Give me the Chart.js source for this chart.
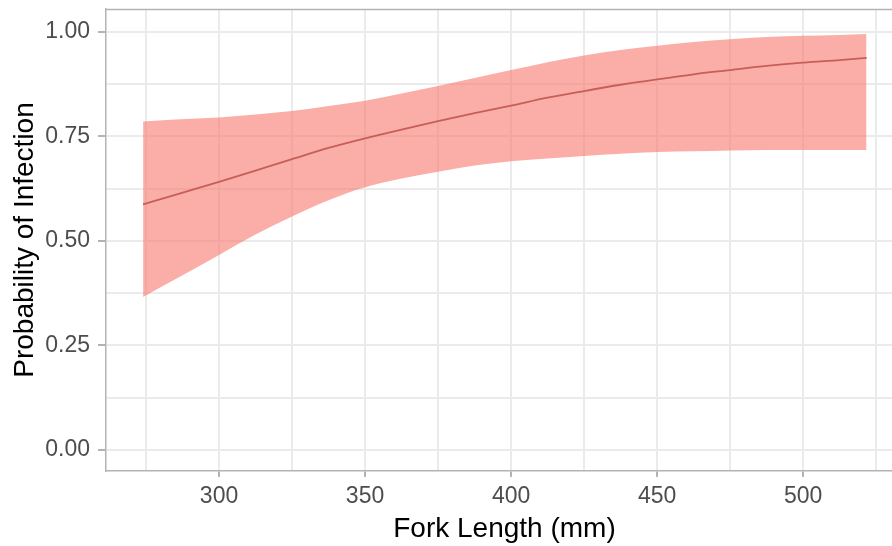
<!DOCTYPE html>
<html><head><meta charset="utf-8">
<script src="https://cdn.jsdelivr.net/npm/chart.js@4/dist/chart.umd.min.js"></script>
<style>html,body{margin:0;padding:0;background:#fff;overflow:hidden}#wrap{width:892px;height:546px;overflow:hidden;position:relative}canvas{display:block}</style>
</head><body><div id="wrap"><canvas id="c" width="903" height="546"></canvas></div>
<script>
const forkLength = [274, 285, 300, 312.5, 325, 337.5, 350, 362.5, 375, 387.5, 400, 412.5, 425, 437.5, 450, 462.5, 475, 487.5, 500, 512.5, 521.7];
const probFit    = [0.587, 0.610, 0.641, 0.668, 0.695, 0.722, 0.745, 0.766, 0.786, 0.805, 0.823, 0.842, 0.858, 0.873, 0.886, 0.898, 0.908, 0.918, 0.926, 0.932, 0.937];
const probUpper  = [0.785, 0.790, 0.795, 0.802, 0.810, 0.822, 0.835, 0.852, 0.870, 0.889, 0.908, 0.927, 0.943, 0.956, 0.966, 0.975, 0.982, 0.987, 0.990, 0.992, 0.994];
const probLower  = [0.366, 0.408, 0.466, 0.515, 0.558, 0.597, 0.628, 0.649, 0.665, 0.680, 0.690, 0.697, 0.703, 0.708, 0.712, 0.714, 0.716, 0.717, 0.717, 0.717, 0.717];

const xTickValues = [275, 300, 325, 350, 375, 400, 425, 450, 475, 500, 525];
const xTickLabels = ['', '300', '', '350', '', '400', '', '450', '', '500', ''];
const yTickValues = [0, 0.125, 0.25, 0.375, 0.5, 0.625, 0.75, 0.875, 1];
const yTickLabels = ['0.00', '', '0.25', '', '0.50', '', '0.75', '', '1.00'];

const pts = (ys) => forkLength.map((x, i) => ({x: x, y: ys[i]}));

const topBorder = {
  id: 'topBorder',
  afterDraw(chart) {
    const {ctx, chartArea} = chart;
    ctx.save();
    ctx.strokeStyle = '#B3B3B3';
    ctx.lineWidth = 1.5;
    ctx.beginPath();
    ctx.moveTo(chartArea.left, chartArea.top + 0.5);
    ctx.lineTo(chartArea.right, chartArea.top + 0.5);
    ctx.stroke();
    ctx.restore();
  }
};

const GRID = '#EBEBEB';
const TICKC = '#B3B3B3';
const FONT = 'Liberation Sans, Arial, sans-serif';

new Chart(document.getElementById('c'), {
  type: 'line',
  data: {
    datasets: [
      { label: 'lower', data: pts(probLower), borderWidth: 0, pointRadius: 0, fill: false, borderColor: 'rgba(0,0,0,0)', cubicInterpolationMode: 'monotone' },
      { label: 'upper', data: pts(probUpper), borderWidth: 0, pointRadius: 0, fill: '-1', borderColor: 'rgba(0,0,0,0)', backgroundColor: 'rgba(248,118,109,0.6)', cubicInterpolationMode: 'monotone' },
      { label: 'fit', data: pts(probFit), borderWidth: 1.8, pointRadius: 0, fill: false, borderColor: '#7D3A3A', cubicInterpolationMode: 'monotone' }
    ]
  },
  options: {
    responsive: false,
    animation: false,
    devicePixelRatio: 1,
    layout: { autoPadding: false, padding: { left: 0, right: 0, top: 9, bottom: 0 } },
    plugins: { legend: { display: false }, title: { display: false }, tooltip: { enabled: false } },
    scales: {
      x: {
        type: 'linear', min: 261.3, max: 534.2,
        afterBuildTicks: (s) => { s.ticks = xTickValues.map(v => ({value: v})); },
        afterFit: (s) => { s.height = 75; s.paddingLeft = 0; s.paddingRight = 0; },
        ticks: {
          autoSkip: false, maxRotation: 0, minRotation: 0,
          callback: (v, i) => xTickLabels[i],
          font: { family: FONT, size: 23 },
          color: '#4D4D4D', padding: 6
        },
        grid: {
          color: GRID, lineWidth: 2, tickLength: 6,
          tickColor: (ctx) => (xTickLabels[ctx.index] ? TICKC : 'rgba(0,0,0,0)')
        },
        border: { color: '#B3B3B3', width: 1.5 },
        title: {
          display: true, text: 'Fork Length (mm)', color: '#000',
          font: { family: FONT, size: 28 },
          padding: { top: 0, bottom: 0 }
        }
      },
      y: {
        type: 'linear', min: -0.05, max: 1.054,
        afterBuildTicks: (s) => { s.ticks = yTickValues.map(v => ({value: v})); },
        afterFit: (s) => { s.width = 106; s.paddingTop = 0; s.paddingBottom = 0; },
        ticks: {
          autoSkip: false,
          callback: (v, i) => yTickLabels[i],
          font: { family: FONT, size: 23 },
          color: '#4D4D4D', padding: 8
        },
        grid: {
          color: GRID, lineWidth: 2, tickLength: 8,
          tickColor: (ctx) => (yTickLabels[ctx.index] ? TICKC : 'rgba(0,0,0,0)')
        },
        border: { color: '#B3B3B3', width: 1.5 },
        title: {
          display: true, text: 'Probability of Infection', color: '#000',
          font: { family: FONT, size: 28 },
          padding: { top: 8, bottom: 0 }
        }
      }
    }
  },
  plugins: [topBorder]
});
</script></body></html>
